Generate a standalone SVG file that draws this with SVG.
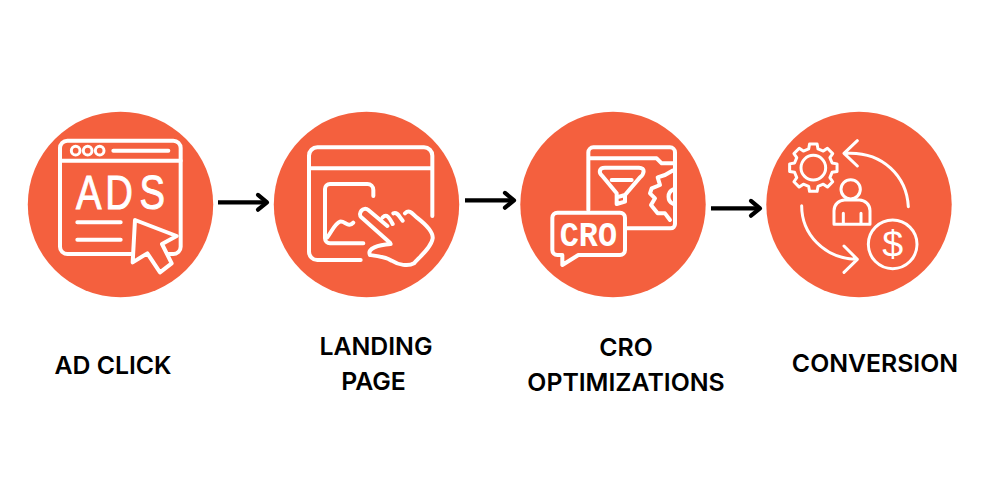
<svg xmlns="http://www.w3.org/2000/svg" width="1008" height="495" viewBox="0 0 1008 495">
<style>
.disc{fill:#f4603e}
.ic{fill:none;stroke:#fff;stroke-width:12;stroke-linecap:round;stroke-linejoin:round}
.thin{stroke-width:9}
.label{font-family:"Inter","Liberation Sans",sans-serif;font-weight:600;font-size:24.8px;fill:#000;text-anchor:middle}
.conn{fill:none;stroke:#000;stroke-width:4.2}
</style>
<defs>
<marker id="head" markerUnits="userSpaceOnUse" markerWidth="16" markerHeight="22" refX="13" refY="11" orient="auto">
<path d="M4 3.6L13 11L4 18.4" fill="none" stroke="#000" stroke-width="4.2" stroke-linecap="round" stroke-linejoin="round"/>
</marker>
</defs>
<rect width="1008" height="495" fill="#fff"/>
<g id="connectors">
<path class="conn" d="M218 202.3H267" marker-end="url(#head)"/>
<path class="conn" d="M465 200.3H514" marker-end="url(#head)"/>
<path class="conn" d="M711 208.3H760" marker-end="url(#head)"/>
</g>
<g id="node-ad-click">
<circle class="disc" cx="120.5" cy="204.5" r="92.7"/>
<g transform="translate(20 100) scale(.33333)">
<rect class="ic" x="120" y="122" width="362" height="340" rx="22"/>
<path class="ic" d="M120 182H482M280 152H445M172 367H302M172 419H302"/>
<circle class="ic thin" cx="167" cy="152" r="13"/><circle class="ic thin" cx="203" cy="152" r="13"/><circle class="ic thin" cx="239" cy="152" r="13"/>
<text transform="translate(168 328) scale(.78 1)" x="0 113 244" y="0" font-family="'Liberation Sans',sans-serif" font-size="147" fill="#fff" stroke="#fff" stroke-width="3">ADS</text>
<path class="ic" style="fill:#f4603e" d="M345 360L470 408L426 432L455 490L420 517L382 460L338 487Z"/>
</g>
<text class="label" x="113" y="374.3">AD CLICK</text>
</g>
<g id="node-landing-page">
<circle class="disc" cx="366.5" cy="204.5" r="92.7"/>
<g transform="translate(270 100) scale(.33333)">
<path class="ic" d="M487 348V167A25 25 0 0 0 462 142H142A25 25 0 0 0 117 167V455A25 25 0 0 0 142 480H272M117 205H487"/>
<path class="ic" d="M310 288V270A18 18 0 0 0 292 252H180A15 15 0 0 0 165 267V415A15 15 0 0 0 180 430H280M172 412C185 395 195 370 210 365C225 362 235 385 250 368"/>
<path class="ic" d="M360 428L274 352C262 340 280 318 295 330L352 378M338 352C350 340 358 352 368 372M370 340C382 335 388 350 398 362M405 340C420 325 430 345 440 352C470 375 490 395 488 415C485 440 450 470 432 490C415 500 385 495 365 482C345 470 325 468 300 465C290 445 325 435 362 432"/>
</g>
<text class="label" x="376" y="355">LANDING</text>
<text class="label" x="373.5" y="390">PAGE</text>
</g>
<g id="node-cro">
<circle class="disc" cx="613" cy="204.5" r="92.7"/>
<g transform="translate(515 100) scale(.33333)">
<path class="ic" d="M220 330V157A15 15 0 0 1 235 142H465A15 15 0 0 1 480 157V372A13 13 0 0 1 467 385H335M225 175H425L440 190H475"/>
<path class="ic" d="M270 203H372C392 203 388 222 375 232L330 285V305L305 312V280L262 228C250 218 252 203 270 203ZM290 240H350M305 292L330 285"/>
<path class="ic" d="M472 212L450 225L428 232L435 255L410 265L405 280L420 295L408 315L428 340L450 340L465 360M475 268A24 24 0 0 0 475 312"/>
<path class="ic" d="M127 338H315A15 15 0 0 1 330 353V450A15 15 0 0 1 315 465H190L142 495V465H127A15 15 0 0 1 112 450V353A15 15 0 0 1 127 338Z"/>
<text transform="translate(220 438) scale(.9 1)" x="0" y="0" text-anchor="middle" font-family="'Liberation Mono',monospace" font-weight="700" font-size="106" fill="#fff">CRO</text>
</g>
<text class="label" x="626" y="356">CRO</text>
<text class="label" x="626" y="391">OPTIMIZATIONS</text>
</g>
<g id="node-conversion">
<circle class="disc" cx="859" cy="204.5" r="92.7"/>
<g transform="translate(760 100) scale(.33333)">
<circle class="ic thin" cx="160" cy="203" r="37"/>
<path class="ic thin" transform="translate(160 203)" d="M56.3-14L71.1-11.3V11.3L56.3 14L49.7 29.9L58.2 42.3L42.3 58.2L29.9 49.7L14 56.3L11.3 71.1H-11.3L-14 56.3L-29.9 49.7L-42.3 58.2L-58.2 42.3L-49.7 29.9L-56.3 14L-71.1 11.3V-11.3L-56.3-14L-49.7-29.9L-58.2-42.3L-42.3-58.2L-29.9-49.7L-14-56.3L-11.3-71.1H11.3L14-56.3L29.9-49.7L42.3-58.2L58.2-42.3L49.7-29.9Z"/>
<circle class="ic thin" cx="272" cy="268" r="29"/>
<path class="ic thin" d="M222 373V332A32 32 0 0 1 254 300H298A32 32 0 0 1 330 332V373ZM250 340V373M303 340V373"/>
<circle class="ic thin" cx="398" cy="433" r="73"/>
<text x="398" y="470" text-anchor="middle" font-family="'Liberation Sans',sans-serif" font-size="113" fill="#fff">$</text>
<path class="ic thin" d="M445 320C440 230 370 155 260 160M292 122L252 160L292 198M125 317C125 400 190 475 290 478M252 517L292 478L252 438"/>
</g>
<text class="label" x="875" y="371.5">CONVERSION</text>
</g>
</svg>
